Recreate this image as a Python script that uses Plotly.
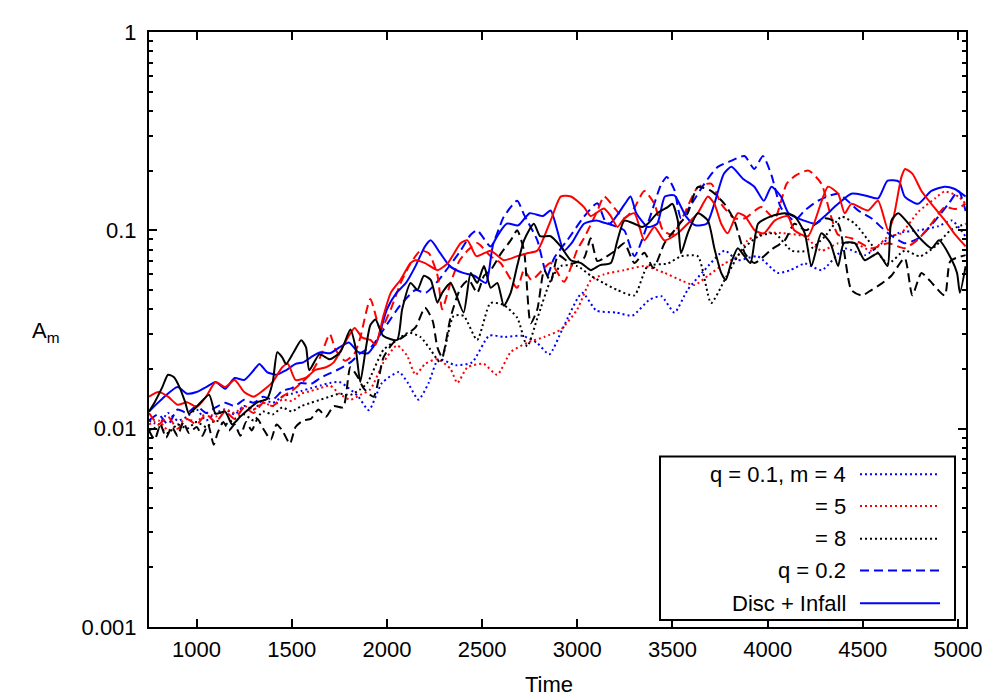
import plotly.graph_objects as go

# A_m against time, values as (time, A_m) pairs
# q = 0.1 runs (dotted)
q01_m4 = [(750, 0.011), (800, 0.0105), (850, 0.012), (900, 0.011), (950, 0.0115), (1000, 0.0125),
          (1050, 0.011), (1100, 0.012), (1150, 0.0125), (1200, 0.0118), (1250, 0.013), (1300, 0.0125),
          (1350, 0.014), (1400, 0.0135), (1450, 0.0145), (1500, 0.015), (1550, 0.0155), (1600, 0.016),
          (1650, 0.0165), (1700, 0.017), (1750, 0.0172), (1800, 0.016), (1850, 0.0145), (1905, 0.0124),
          (1974, 0.017), (2063, 0.0193), (2110, 0.017), (2166, 0.014), (2219, 0.017), (2271, 0.0224),
          (2361, 0.0209), (2447, 0.0216), (2537, 0.0294), (2620, 0.029), (2711, 0.0294), (2790, 0.027),
          (2853, 0.0237), (2921, 0.0316), (3026, 0.0484), (3100, 0.0394), (3205, 0.0385), (3290, 0.0372),
          (3379, 0.0447), (3442, 0.0465), (3510, 0.0385), (3579, 0.05), (3668, 0.063), (3774, 0.079),
          (3842, 0.0707), (3947, 0.074), (4053, 0.061), (4120, 0.063), (4195, 0.068), (4284, 0.063),
          (4405, 0.081), (4511, 0.075), (4600, 0.086), (4687, 0.097), (4793, 0.1), (4898, 0.105),
          (4968, 0.112), (5040, 0.093)]
q01_m5 = [(750, 0.0105), (800, 0.011), (850, 0.0098), (900, 0.0105), (950, 0.0112), (1000, 0.0108),
          (1050, 0.012), (1100, 0.0115), (1150, 0.0125), (1200, 0.012), (1250, 0.013), (1300, 0.0125),
          (1350, 0.0135), (1400, 0.013), (1450, 0.014), (1500, 0.0138), (1550, 0.015), (1600, 0.0155),
          (1650, 0.016), (1700, 0.0165), (1750, 0.015), (1808, 0.014), (1860, 0.0148), (1913, 0.0158),
          (1982, 0.0216), (2053, 0.0263), (2105, 0.0234), (2150, 0.0187), (2200, 0.0212), (2266, 0.0224),
          (2334, 0.02), (2370, 0.017), (2423, 0.0204), (2508, 0.0212), (2579, 0.0187), (2650, 0.0243),
          (2739, 0.0272), (2826, 0.029), (2913, 0.0316), (3000, 0.04), (3071, 0.056), (3141, 0.06),
          (3247, 0.063), (3352, 0.066), (3458, 0.061), (3545, 0.056), (3616, 0.053), (3686, 0.059),
          (3774, 0.068), (3842, 0.074), (3895, 0.089), (3984, 0.097), (4070, 0.097), (4195, 0.093),
          (4282, 0.079), (4370, 0.086), (4460, 0.086), (4545, 0.079), (4633, 0.093), (4700, 0.0966),
          (4792, 0.124), (4880, 0.145), (4930, 0.157), (5003, 0.148), (5040, 0.136)]
q01_m8 = [(750, 0.0098), (800, 0.0102), (850, 0.0095), (900, 0.0105), (950, 0.01), (1000, 0.0108),
          (1050, 0.0102), (1100, 0.011), (1150, 0.0105), (1200, 0.0112), (1250, 0.0118), (1300, 0.011),
          (1350, 0.0122), (1400, 0.0118), (1450, 0.0128), (1500, 0.0122), (1550, 0.013), (1600, 0.0135),
          (1650, 0.014), (1700, 0.0145), (1750, 0.015), (1808, 0.0148), (1860, 0.0158), (1897, 0.017),
          (1982, 0.025), (2053, 0.028), (2113, 0.0305), (2176, 0.029), (2229, 0.025), (2281, 0.0216),
          (2350, 0.037), (2403, 0.037), (2474, 0.028), (2544, 0.043), (2614, 0.042), (2684, 0.0363),
          (2737, 0.026), (2790, 0.036), (2860, 0.056), (2913, 0.066), (3000, 0.066), (3071, 0.059),
          (3141, 0.054), (3211, 0.05), (3300, 0.047), (3370, 0.066), (3475, 0.068), (3545, 0.074),
          (3633, 0.074), (3703, 0.043), (3773, 0.056), (3862, 0.079), (3950, 0.093), (4037, 0.0966),
          (4126, 0.079), (4212, 0.079), (4300, 0.093), (4388, 0.117), (4458, 0.108), (4545, 0.085),
          (4633, 0.068), (4720, 0.079), (4800, 0.074), (4880, 0.083), (4960, 0.1), (5040, 0.108)]

# q = 0.2 runs (dashed)
q02_m4 = [(750, 0.011), (800, 0.0118), (850, 0.0105), (900, 0.0125), (950, 0.012), (1000, 0.013),
          (1050, 0.012), (1100, 0.0128), (1150, 0.0135), (1200, 0.013), (1250, 0.014), (1300, 0.0135),
          (1350, 0.0145), (1400, 0.014), (1450, 0.0155), (1500, 0.016), (1550, 0.017), (1600, 0.0168),
          (1650, 0.018), (1700, 0.019), (1750, 0.02), (1808, 0.0216), (1860, 0.024), (1920, 0.026),
          (1982, 0.0316), (2071, 0.042), (2150, 0.05), (2203, 0.0484), (2271, 0.056), (2320, 0.0646),
          (2387, 0.079), (2440, 0.095), (2474, 0.1), (2545, 0.083), (2614, 0.117), (2684, 0.141),
          (2720, 0.12), (2790, 0.089), (2842, 0.059), (2878, 0.0724), (2947, 0.089), (3035, 0.117),
          (3105, 0.137), (3150, 0.11), (3211, 0.104), (3247, 0.1), (3300, 0.074), (3370, 0.108),
          (3440, 0.17), (3470, 0.186), (3510, 0.16), (3545, 0.115), (3600, 0.136), (3668, 0.172),
          (3738, 0.209), (3808, 0.224), (3878, 0.237), (3930, 0.204), (3975, 0.237), (4020, 0.19),
          (4070, 0.13), (4140, 0.112), (4195, 0.126), (4265, 0.141), (4370, 0.153), (4475, 0.126),
          (4545, 0.115), (4633, 0.0966), (4720, 0.0861), (4792, 0.0912), (4880, 0.112), (4950, 0.136),
          (5003, 0.158), (5040, 0.125)]
q02_m5 = [(750, 0.012), (800, 0.0105), (850, 0.0115), (900, 0.01), (950, 0.0112), (1000, 0.0105),
          (1050, 0.0118), (1100, 0.0108), (1150, 0.0122), (1200, 0.0112), (1250, 0.0128), (1300, 0.012),
          (1350, 0.0135), (1400, 0.013), (1450, 0.0145), (1500, 0.0155), (1550, 0.017), (1600, 0.019),
          (1650, 0.023), (1700, 0.03), (1730, 0.025), (1780, 0.022), (1830, 0.024), (1860, 0.0288),
          (1913, 0.045), (1966, 0.0316), (2020, 0.04), (2071, 0.054), (2124, 0.068), (2176, 0.079),
          (2220, 0.0767), (2266, 0.059), (2290, 0.04), (2334, 0.0543), (2380, 0.07), (2423, 0.079),
          (2474, 0.0862), (2545, 0.074), (2597, 0.0684), (2684, 0.0513), (2720, 0.063), (2760, 0.0562),
          (2860, 0.0684), (2930, 0.055), (3000, 0.08), (3035, 0.0912), (3105, 0.125), (3141, 0.148),
          (3200, 0.128), (3247, 0.115), (3300, 0.13), (3352, 0.158), (3405, 0.136), (3450, 0.1),
          (3500, 0.095), (3560, 0.12), (3633, 0.165), (3703, 0.172), (3756, 0.136), (3825, 0.115),
          (3880, 0.115), (3966, 0.131), (4037, 0.115), (4100, 0.172), (4150, 0.19), (4215, 0.2),
          (4282, 0.172), (4330, 0.12), (4370, 0.095), (4440, 0.0912), (4545, 0.0813), (4633, 0.0861),
          (4720, 0.0813), (4790, 0.09), (4861, 0.108), (4930, 0.131), (4987, 0.128), (5040, 0.136)]
q02_m8 = [(750, 0.0098), (780, 0.0088), (810, 0.0105), (840, 0.009), (870, 0.0102), (900, 0.0092),
          (930, 0.0108), (960, 0.0095), (1000, 0.0102), (1030, 0.0092), (1060, 0.0105), (1090, 0.0083),
          (1110, 0.0095), (1140, 0.0108), (1170, 0.0098), (1200, 0.0105), (1230, 0.0092), (1260, 0.0108),
          (1290, 0.0098), (1320, 0.0112), (1350, 0.01), (1390, 0.0088), (1420, 0.0105), (1450, 0.0098),
          (1490, 0.0084), (1520, 0.0102), (1560, 0.011), (1600, 0.0112), (1640, 0.0125), (1680, 0.0115),
          (1720, 0.013), (1770, 0.0128), (1808, 0.0204), (1850, 0.018), (1877, 0.016), (1930, 0.0145),
          (1982, 0.0229), (2035, 0.0272), (2080, 0.0288), (2150, 0.0324), (2200, 0.0407), (2240, 0.035),
          (2265, 0.0257), (2290, 0.0229), (2334, 0.0363), (2387, 0.0513), (2430, 0.0562), (2474, 0.0484),
          (2510, 0.059), (2545, 0.063), (2600, 0.0767), (2650, 0.089), (2684, 0.1), (2720, 0.079),
          (2755, 0.034), (2790, 0.04), (2826, 0.063), (2860, 0.055), (2900, 0.075), (2966, 0.068),
          (3035, 0.0724), (3070, 0.0912), (3105, 0.07), (3140, 0.0724), (3200, 0.079), (3247, 0.0861),
          (3300, 0.0684), (3352, 0.077), (3400, 0.0646), (3458, 0.0861), (3510, 0.1), (3580, 0.122),
          (3633, 0.165), (3703, 0.158), (3773, 0.136), (3825, 0.112), (3880, 0.0767), (3930, 0.0684),
          (4020, 0.08), (4090, 0.089), (4140, 0.108), (4200, 0.1), (4300, 0.115), (4370, 0.108),
          (4440, 0.05), (4494, 0.047), (4545, 0.05), (4600, 0.054), (4650, 0.059), (4720, 0.0724),
          (4760, 0.047), (4808, 0.061), (4850, 0.056), (4930, 0.047), (4960, 0.07), (5040, 0.075)]

# Disc + Infall runs (solid)
infall_m4 = [(750, 0.0122), (800, 0.0136), (900, 0.0162), (950, 0.015), (1000, 0.0153), (1050, 0.0162),
             (1100, 0.0172), (1150, 0.0159), (1200, 0.018), (1250, 0.0176), (1300, 0.0197), (1330, 0.0212),
             (1370, 0.0193), (1420, 0.0187), (1470, 0.0197), (1520, 0.0212), (1560, 0.0216), (1600, 0.0229),
             (1650, 0.0243), (1700, 0.024), (1750, 0.0257), (1800, 0.0272), (1850, 0.0243), (1900, 0.024),
             (1950, 0.028), (2000, 0.04), (2050, 0.0484), (2100, 0.0543), (2150, 0.066), (2200, 0.083),
             (2230, 0.089), (2280, 0.0767), (2330, 0.066), (2400, 0.061), (2460, 0.059), (2520, 0.0543),
             (2560, 0.0861), (2630, 0.108), (2690, 0.106), (2750, 0.122), (2820, 0.118), (2860, 0.126),
             (2930, 0.079), (2970, 0.0861), (3035, 0.108), (3100, 0.112), (3170, 0.108), (3250, 0.136),
             (3280, 0.148), (3310, 0.122), (3370, 0.104), (3420, 0.108), (3460, 0.148), (3510, 0.15),
             (3570, 0.118), (3620, 0.106), (3680, 0.108), (3720, 0.136), (3770, 0.193), (3810, 0.209),
             (3870, 0.182), (3930, 0.166), (3980, 0.141), (4020, 0.166), (4070, 0.148), (4110, 0.122),
             (4190, 0.112), (4250, 0.108), (4300, 0.118), (4370, 0.136), (4440, 0.153), (4510, 0.15),
             (4580, 0.145), (4630, 0.178), (4690, 0.176), (4720, 0.148), (4790, 0.136), (4860, 0.158),
             (4930, 0.166), (4980, 0.162), (5040, 0.148)]
infall_m5 = [(750, 0.0145), (800, 0.0153), (850, 0.0145), (900, 0.0132), (950, 0.0136), (1000, 0.0129),
             (1050, 0.0145), (1100, 0.0172), (1150, 0.0162), (1200, 0.0176), (1250, 0.0153), (1300, 0.0145),
             (1350, 0.0156), (1400, 0.0172), (1450, 0.0204), (1480, 0.0212), (1520, 0.0176), (1580, 0.0182),
             (1620, 0.0197), (1680, 0.0204), (1720, 0.0216), (1780, 0.0272), (1830, 0.0322), (1870, 0.0288),
             (1913, 0.028), (1940, 0.0265), (1982, 0.0372), (2020, 0.0484), (2071, 0.0562), (2124, 0.0684),
             (2150, 0.0707), (2200, 0.0684), (2266, 0.063), (2320, 0.0684), (2387, 0.0861), (2423, 0.089),
             (2470, 0.0741), (2545, 0.079), (2614, 0.0707), (2684, 0.0741), (2737, 0.0767), (2790, 0.079),
             (2860, 0.112), (2913, 0.148), (2966, 0.148), (3035, 0.131), (3070, 0.118), (3140, 0.129),
             (3176, 0.118), (3211, 0.104), (3247, 0.115), (3300, 0.122), (3352, 0.089), (3405, 0.104),
             (3457, 0.089), (3528, 0.0966), (3580, 0.108), (3633, 0.122), (3686, 0.148), (3720, 0.136),
             (3756, 0.108), (3790, 0.0966), (3843, 0.122), (3880, 0.118), (3932, 0.1), (3980, 0.0966),
             (4037, 0.112), (4105, 0.118), (4140, 0.1), (4212, 0.0934), (4317, 0.166), (4370, 0.153),
             (4405, 0.122), (4440, 0.136), (4527, 0.126), (4580, 0.141), (4633, 0.1), (4660, 0.115),
             (4703, 0.186), (4722, 0.204), (4760, 0.193), (4808, 0.158), (4860, 0.136), (4932, 0.112),
             (4980, 0.0966), (5040, 0.083)]
infall_m8 = [(750, 0.0122), (780, 0.0136), (820, 0.0162), (850, 0.0187), (880, 0.0182), (910, 0.0162),
             (940, 0.0136), (960, 0.0119), (1000, 0.0129), (1066, 0.0148), (1100, 0.0119), (1150, 0.0122),
             (1187, 0.0105), (1230, 0.0115), (1276, 0.0126), (1320, 0.0136), (1370, 0.0141), (1400, 0.0172),
             (1424, 0.0243), (1450, 0.0229), (1470, 0.0212), (1510, 0.0243), (1550, 0.0279), (1575, 0.0257),
             (1592, 0.0197), (1645, 0.0237), (1700, 0.0224), (1755, 0.0243), (1808, 0.0316), (1835, 0.0257),
             (1860, 0.0172), (1890, 0.0257), (1913, 0.0333), (1940, 0.0355), (1980, 0.0294), (2053, 0.028),
             (2080, 0.04), (2124, 0.0543), (2160, 0.0501), (2194, 0.059), (2230, 0.0562), (2265, 0.0432),
             (2290, 0.0484), (2334, 0.0543), (2360, 0.0484), (2403, 0.0385), (2440, 0.061), (2474, 0.0543),
             (2510, 0.066), (2545, 0.0513), (2580, 0.0543), (2614, 0.0417), (2650, 0.0484), (2684, 0.066),
             (2720, 0.089), (2772, 0.108), (2805, 0.0934), (2860, 0.0934), (2913, 0.083), (2966, 0.0707),
             (3020, 0.0684), (3071, 0.063), (3120, 0.0668), (3176, 0.0684), (3211, 0.089), (3247, 0.112),
             (3300, 0.108), (3340, 0.104), (3370, 0.108), (3420, 0.122), (3475, 0.131), (3500, 0.136),
             (3528, 0.112), (3545, 0.0767), (3580, 0.0966), (3633, 0.122), (3686, 0.112), (3720, 0.0813),
             (3756, 0.061), (3780, 0.0562), (3808, 0.0684), (3843, 0.0813), (3878, 0.0741), (3910, 0.0684),
             (3950, 0.108), (4020, 0.118), (4090, 0.122), (4140, 0.118), (4195, 0.0966), (4230, 0.066),
             (4282, 0.0966), (4330, 0.0861), (4370, 0.066), (4400, 0.0861), (4458, 0.0861), (4510, 0.0707),
             (4580, 0.0767), (4630, 0.066), (4650, 0.112), (4686, 0.122), (4740, 0.108), (4790, 0.0934),
             (4862, 0.0813), (4900, 0.089), (4968, 0.0707), (4995, 0.061), (5010, 0.0484), (5040, 0.066)]

BLUE, RED, BLACK = "#0000ff", "#ff0000", "#000000"
DOT = "2px,3px"
DASH = "9px,5px"

series = [
    (q01_m4, BLUE, DOT), (q01_m5, RED, DOT), (q01_m8, BLACK, DOT),
    (q02_m4, BLUE, DASH), (q02_m5, RED, DASH), (q02_m8, BLACK, DASH),
    (infall_m4, BLUE, "solid"), (infall_m5, RED, "solid"), (infall_m8, BLACK, "solid"),
]

fig = go.Figure()
for pts, col, dash in series:
    fig.add_trace(go.Scatter(x=[p[0] for p in pts], y=[p[1] for p in pts], mode="lines",
                             line=dict(color=col, width=2, dash=dash, shape="spline", smoothing=0.6),
                             showlegend=False, hoverinfo="skip"))

font = dict(family="Liberation Sans, Arial, sans-serif", size=22, color="black")

fig.update_xaxes(range=[750, 5042], tickvals=list(range(1000, 5001, 500)), ticks="inside",
                 ticklen=8, tickwidth=2, tickcolor="black", showline=True, linewidth=2,
                 linecolor="black", mirror="allticks", showgrid=False, zeroline=False,
                 tickfont=font, ticklabelstandoff=2)
minor_vals = [m * 10 ** e for e in (-3, -2, -1) for m in range(2, 10)]
fig.update_yaxes(type="log", range=[-3, 0], tickvals=[0.001, 0.01, 0.1, 1],
                 ticktext=["0.001", "0.01", "0.1", "1"], ticks="inside", ticklen=8, tickwidth=2,
                 tickcolor="black", showline=True, linewidth=2, linecolor="black",
                 mirror="allticks", showgrid=False, zeroline=False, tickfont=font,
                 ticklabelstandoff=6,
                 minor=dict(tickmode="array", tickvals=minor_vals, ticks="inside", ticklen=4,
                            tickwidth=2, tickcolor="black", showgrid=False))

# hand-made legend box (samples on the right, as in gnuplot); positions in screen pixels
PW, PH, X0, Y0 = 817, 600, 149, 627
def px(x): return (x - X0) / PW
def py(y): return (Y0 - y) / PH

shapes = [dict(type="rect", xref="paper", yref="paper", x0=px(660), x1=px(955), y0=py(620), y1=py(455),
               line=dict(color="black", width=2), fillcolor="white", layer="above")]
annotations = []
legend_rows = [("q = 0.1, m = 4", BLUE, DOT), ("= 5", RED, DOT), ("= 8", BLACK, DOT),
               ("q = 0.2", BLUE, DASH), ("Disc + Infall", BLUE, "solid")]
row_y = [473, 505, 538, 570, 603]
for (label, col, dash), yy in zip(legend_rows, row_y):
    annotations.append(dict(xref="paper", yref="paper", x=px(848), y=py(yy), text=label,
                            xanchor="right", yanchor="middle", showarrow=False, font=font))
    shapes.append(dict(type="line", xref="paper", yref="paper", x0=px(860), x1=px(940),
                       y0=py(yy), y1=py(yy), line=dict(color=col, width=2, dash=dash), layer="above"))

annotations.append(dict(xref="paper", yref="paper", x=px(549), y=py(685), text="Time",
                        showarrow=False, xanchor="center", yanchor="middle", font=font))
annotations.append(dict(xref="paper", yref="paper", x=px(46), y=py(330), text="A<sub>m</sub>",
                        showarrow=False, xanchor="center", yanchor="middle", font=font))

# the page adds an 8px body margin, so the figure is shifted back by 8px
fig.update_layout(width=1000, height=700, margin=dict(l=141, r=42, t=19, b=81),
                  plot_bgcolor="white", paper_bgcolor="white", font=font,
                  shapes=shapes, annotations=annotations)

fig.write_html("out.html")
